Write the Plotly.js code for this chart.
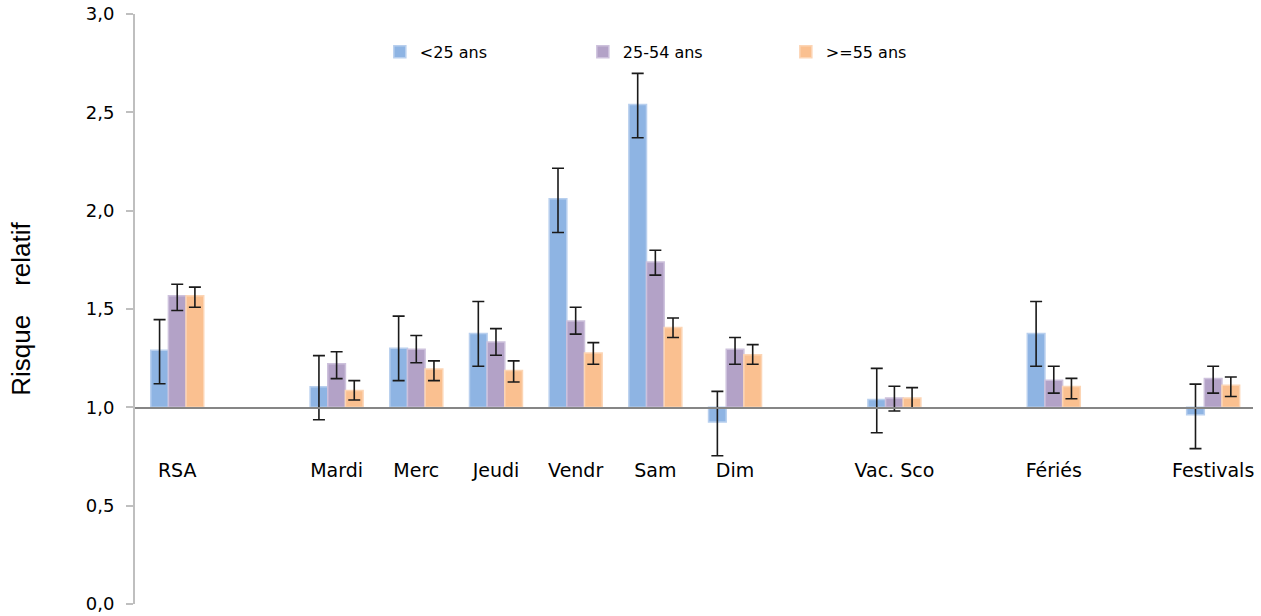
<!DOCTYPE html>
<html>
<head>
<meta charset="utf-8">
<script src="https://cdn.plot.ly/plotly-3.0.1.min.js"></script>
<style>
  html, body { margin: 0; padding: 0; background: #fff; }
  #chart { width: 1261px; height: 616px; }
</style>
</head>
<body>
<div id="chart"></div>
<script>
// ---- Data (relative risk) ----
const categories = ['RSA', 'Mardi', 'Merc', 'Jeudi', 'Vendr', 'Sam', 'Dim', 'Vac. Sco', 'Fériés', 'Festivals'];
const seriesNames = ['<25 ans', '25-54 ans', '>=55 ans'];

const young = [1.29, 1.105, 1.30, 1.375, 2.06, 2.54, 0.925, 1.04, 1.375, 0.962];
const youngLow = [1.12, 0.937, 1.136, 1.209, 1.889, 2.371, 0.754, 0.871, 1.209, 0.79];
const youngHigh = [1.446, 1.263, 1.464, 1.538, 2.216, 2.698, 1.081, 1.198, 1.538, 1.118];

const middle = [1.568, 1.222, 1.295, 1.332, 1.439, 1.739, 1.295, 1.047, 1.138, 1.147];
const middleLow = [1.492, 1.146, 1.227, 1.265, 1.372, 1.672, 1.219, 0.981, 1.072, 1.072];
const middleHigh = [1.626, 1.283, 1.365, 1.40, 1.509, 1.799, 1.355, 1.107, 1.209, 1.209];

const senior = [1.568, 1.085, 1.195, 1.187, 1.276, 1.406, 1.268, 1.047, 1.106, 1.112];
const seniorLow = [1.509, 1.037, 1.136, 1.129, 1.219, 1.355, 1.219, 0.995, 1.044, 1.055];
const seniorHigh = [1.611, 1.136, 1.236, 1.236, 1.329, 1.454, 1.319, 1.100, 1.147, 1.154];

const yTickVals = [0, 0.5, 1, 1.5, 2, 2.5, 3];

// ---- Layout helpers (category order with empty spacer slots) ----
const categoryOrder = ['RSA', '_g1', 'Mardi', 'Merc', 'Jeudi', 'Vendr', 'Sam', 'Dim', '_g2',
                       'Vac. Sco', '_g3', 'Fériés', '_g4', 'Festivals'];
const colors = ['#8EB4E3', '#B3A2C7', '#FAC090'];
const edges = ['#B8CFEE', '#CDC1DC', '#FCD5B5'];
const BASE = 1;

function makeTrace(i, vals, lows, highs) {
  return {
    type: 'bar',
    name: seriesNames[i],
    x: categories,
    y: vals.map(v => v - BASE),
    base: BASE,
    marker: { color: colors[i], line: { color: edges[i], width: 1.5 } },
    error_y: {
      type: 'data',
      symmetric: false,
      array: highs.map((h, k) => h - vals[k]),
      arrayminus: lows.map((l, k) => vals[k] - l),
      color: '#1a1a1a',
      thickness: 1.6,
      width: 6
    },
    hoverinfo: 'skip'
  };
}

const data = [
  makeTrace(0, young, youngLow, youngHigh),
  makeTrace(1, middle, middleLow, middleHigh),
  makeTrace(2, senior, seniorLow, seniorHigh)
];

const layout = {
  width: 1261,
  height: 616,
  margin: { l: 135, r: 8, t: 14, b: 12 },
  paper_bgcolor: '#ffffff',
  plot_bgcolor: '#ffffff',
  separators: ', ',
  font: { family: 'DejaVu Sans', color: '#000000', size: 18 },
  barmode: 'group',
  bargap: 0.335,
  bargroupgap: 0,
  showlegend: true,
  legend: {
    orientation: 'h',
    x: 0.219,
    xanchor: 'left',
    y: 0.936,
    yanchor: 'middle',
    font: { family: 'DejaVu Sans', size: 16, color: '#000' },
    entrywidth: 158,
    entrywidthmode: 'pixels',
    itemwidth: 30,
    bgcolor: 'rgba(0,0,0,0)'
  },
  xaxis: {
    type: 'category',
    categoryorder: 'array',
    categoryarray: categoryOrder,
    range: [-0.53, 13.5],
    anchor: 'free',
    position: 1 / 3,
    showline: true,
    linecolor: '#868686',
    linewidth: 1.5,
    showgrid: false,
    zeroline: false,
    ticks: '',
    tickvals: categories,
    ticktext: categories,
    ticklabelstandoff: 45,
    tickfont: { family: 'DejaVu Sans', size: 19, color: '#000' },
    fixedrange: true
  },
  yaxis: {
    range: [0, 3],
    tickvals: yTickVals,
    tickformat: '.1f',
    showline: true,
    linecolor: '#BFBFBF',
    linewidth: 2,
    ticks: 'outside',
    ticklen: 7,
    tickwidth: 2,
    tickcolor: '#BFBFBF',
    showgrid: false,
    zeroline: false,
    ticklabelstandoff: 8,
    tickfont: { family: 'DejaVu Sans', size: 18, color: '#000' },
    title: {
      text: 'Risque\u00A0\u00A0\u00A0\u00A0relatif\u00A0\u00A0',
      font: { family: 'Liberation Sans', size: 26, color: '#000' },
      standoff: 48
    },
    automargin: false,
    fixedrange: true
  }
};

Plotly.newPlot('chart', data, layout, { displayModeBar: false, staticPlot: true });
</script>
</body>
</html>
